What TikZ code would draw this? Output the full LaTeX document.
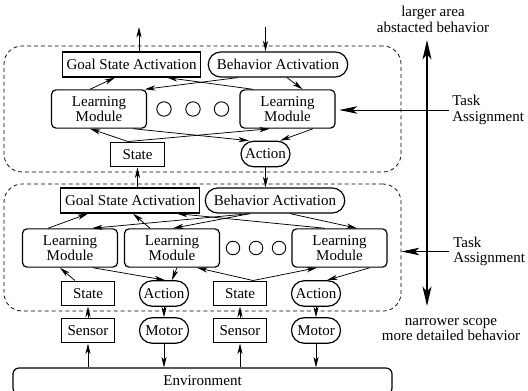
\documentclass[tikz,border=0pt]{standalone}
\usepackage{fontspec}
\setmainfont{Liberation Serif}
\usetikzlibrary{positioning, arrows.meta, shapes.misc, calc}

\begin{document}
\begin{tikzpicture}[
  x=0.6667pt, y=-0.6667pt,
  font=\fontsize{10}{10.5}\selectfont,
  >={Stealth[length=7pt, width=3.4pt, inset=2pt]},
  %% Main node styles
  goalbox/.style={
    draw, line width=0.8pt, minimum width=92.5pt, minimum height=16.7pt,
    inner sep=1pt
  },
  behbox/.style={
    draw, line width=0.8pt, shape=rounded rectangle,
    minimum width=95pt, minimum height=16.7pt, inner sep=1pt
  },
  module/.style={
    draw, line width=0.8pt, rounded corners=3pt, align=center,
    minimum width=63.3pt, minimum height=25.5pt, inner sep=1pt
  },
  sensebox/.style={
    draw, line width=0.8pt, minimum width=35.5pt, minimum height=16.5pt,
    inner sep=1pt
  },
  actbox/.style={
    draw, line width=0.8pt, shape=rounded rectangle,
    minimum width=34.7pt, minimum height=17pt, inner sep=1pt
  },
  envbox/.style={
    draw, line width=0.8pt, rounded corners=4pt,
    minimum width=252.7pt, minimum height=17.3pt, inner sep=1pt
  },
  dot/.style={draw, line width=0.6pt, circle, minimum size=9.6pt, inner sep=0pt},
  layer/.style={
    draw, dash pattern=on 2.6pt off 2pt, line width=0.5pt,
    rounded corners=12pt, minimum width=264.7pt
  },
  note/.style={align=center, inner sep=0pt},
  %% Connector styles
  flow/.style={->, line width=0.5pt},
  bigflow/.style={->, line width=0.6pt, >={Stealth[length=12pt, width=5pt, inset=3pt]}},
  levelarrow/.style={<->, line width=0.8pt, >={Stealth[length=13pt, width=6pt, inset=3.5pt]}},
]
\useasboundingbox (0,0) rectangle (528,390);

%% ── LAYERS ────────────────────────────────────────────────────────────────
\node[layer, minimum height=84pt]   (layerA) at (202.5,109)   {};
\node[layer, minimum height=84.7pt] (layerB) at (202.5,247.5) {};

%% ── UPPER LAYER ───────────────────────────────────────────────────────────
\node[goalbox]  (goalA)  at (131.5,64.5) {Goal State Activation};
\node[behbox]   (behA)   at (278,64.5)   {Behavior Activation};
\node[module]   (lmA1)   at (99,109)     {Learning\\Module};
\node[module]   (lmA2)   at (287.5,109)  {Learning\\Module};
\node[dot]      (dotA1)  at (164,109)    {};
\node[dot]      (dotA2)  at (193,109)    {};
\node[dot]      (dotA3)  at (221.5,109)  {};
\node[sensebox] (stateA) at (137.5,154.5) {State};
\node[actbox]   (actA)   at (265.5,154)  {Action};

%% ── LOWER LAYER ───────────────────────────────────────────────────────────
\node[goalbox]  (goalB)   at (130,200.5) {Goal State Activation};
\node[behbox]   (behB)    at (275,200.5) {Behavior Activation};
\node[module]   (lmB1)    at (70,248)    {Learning\\Module};
\node[module]   (lmB2)    at (172,248)   {Learning\\Module};
\node[module]   (lmB3)    at (339.5,248) {Learning\\Module};
\node[dot, minimum size=9pt] (dotB1) at (233,248) {};
\node[dot, minimum size=9pt] (dotB2) at (256,248) {};
\node[dot, minimum size=9pt] (dotB3) at (279,248) {};
\node[sensebox] (stateB1) at (88,293.5)  {State};
\node[actbox]   (actB1)   at (164,293.5) {Action};
\node[sensebox] (stateB2) at (240,293.5) {State};
\node[actbox]   (actB2)   at (316,293.5) {Action};

%% ── SENSORS, MOTORS, ENVIRONMENT ──────────────────────────────────────────
\node[sensebox] (sensor1) at (88,330.5)  {Sensor};
\node[actbox]   (motor1)  at (164,330.5) {Motor};
\node[sensebox] (sensor2) at (240,330.5) {Sensor};
\node[actbox]   (motor2)  at (316,330.5) {Motor};
\node[envbox]   (env)     at (202.5,381) {Environment};

%% ── RIGHT-HAND LABELS ─────────────────────────────────────────────────────
\node[note] (wide)   at (433,19)    {larger area\\abstacted behavior};
\node[note] (narrow) at (451,329.5) {narrower scope\\more detailed behavior};
\node[note, align=left, anchor=west] (taskA) at (452,110)   {Task\\Assignment};
\node[note, align=left, anchor=west] (taskB) at (453,251.5) {Task\\Assignment};
\coordinate (levelTop) at (427,40);
\coordinate (levelBot) at (427,306);
\coordinate (outUp)    at (139,27);
\coordinate (inDown)   at (265.5,27);

%% ── UPPER LAYER ARROWS ────────────────────────────────────────────────────
\draw[flow] ([xshift=-6pt]lmA1.north)   -- ([xshift=-11pt]goalA.south);
\draw[flow] ([xshift=-26.7pt]behA.south) -- ([xshift=30.5pt]lmA1.north);
\draw[flow] ([xshift=-23pt]lmA2.north)  -- ([xshift=23.7pt]goalA.south);
\draw[flow] ([xshift=6pt]behA.south)    -- ([xshift=10pt]lmA2.north);
\draw[flow] ([xshift=-6.3pt]stateA.north) -- ([xshift=-6pt]lmA1.south);
\draw[flow] ([xshift=-6.3pt]stateA.north) -- ([xshift=-11.7pt]lmA2.south);
\draw[flow] ([xshift=22.7pt]lmA1.south) -- ([xshift=-11pt]actA.north);
\draw[flow] ([xshift=17pt]lmA2.south)   -- ([xshift=9.7pt]actA.north);

%% in and out of the upper layer
\draw[flow] (goalA.north -| outUp) -- (outUp);
\draw[flow] (inDown) -- (inDown |- behA.north);
\draw[flow] (stateA.south |- goalB.north) -- (stateA.south);
\draw[flow] (actA.south) -- (actA.south |- behB.north);

%% ── LOWER LAYER ARROWS ────────────────────────────────────────────────────
\draw[flow] ([xshift=-14.7pt]lmB1.north) -- ([xshift=-28pt]goalB.south);
\draw[flow] ([xshift=-16.7pt]behB.south) -- ([xshift=14.7pt]lmB1.north);
\draw[flow] ([xshift=-16.7pt]behB.south) -- ([xshift=0.7pt]lmB2.north);
\draw[flow] ([xshift=-14.7pt]lmB2.north) -- ([xshift=2pt]goalB.south);
\draw[flow] ([xshift=-9.7pt]lmB3.north)  -- ([xshift=31.3pt]goalB.south);
\draw[flow] ([xshift=10pt]behB.south)    -- ([xshift=11.7pt]lmB3.north);
\draw[flow] ([xshift=-8.7pt]stateB1.north) -- ([xshift=-6.7pt]lmB1.south);
\draw[flow] ([xshift=15.3pt]lmB1.south)  -- ([xshift=0.7pt]actB1.north);
\draw[flow] ([xshift=3.3pt]lmB2.south)   -- ([xshift=5.3pt]actB1.north);
\draw[flow] ([xshift=8.7pt]stateB2.north) -- ([xshift=16.7pt]lmB2.south);
\draw[flow] ([xshift=8.7pt]stateB2.north) -- ([xshift=-15pt]lmB3.south);
\draw[flow] ([xshift=20.3pt]lmB3.south)  -- ([xshift=7.3pt]actB2.north);

%% sensors and motors
\draw[flow] (sensor1.north) -- (stateB1.south);
\draw[flow] (sensor2.north) -- (stateB2.south);
\draw[flow] (actB1.south) -- (motor1.north);
\draw[flow] (actB2.south) -- (motor2.north);
\draw[flow] (sensor1.south |- env.north) -- (sensor1.south);
\draw[flow] (sensor2.south |- env.north) -- (sensor2.south);
\draw[flow] (motor1.south) -- (motor1.south |- env.north);
\draw[flow] (motor2.south) -- (motor2.south |- env.north);

%% ── TASK ASSIGNMENT AND LEVEL SCALE ───────────────────────────────────────
\draw[bigflow, shorten >=4.5pt] ([xshift=-2pt]taskA.west) -- ([xshift=-2pt]taskA.west -| lmA2.east);
\draw[bigflow] ([xshift=-3pt]taskB.west) -- (taskB.west -| layerB.east);
\draw[levelarrow] (levelTop) -- (levelBot);

\end{tikzpicture}
\end{document}
